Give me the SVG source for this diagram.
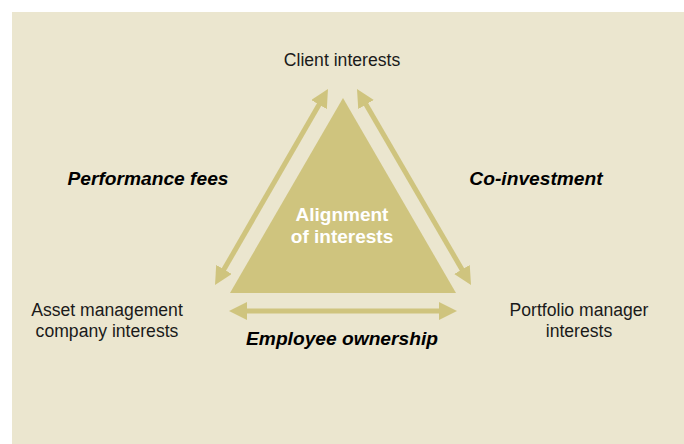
<svg xmlns="http://www.w3.org/2000/svg" width="684" height="444" viewBox="0 0 684 444">
  <defs>
    <marker id="head" viewBox="0 0 10 10" refX="4" refY="5" markerWidth="3.6" markerHeight="3.6" orient="auto-start-reverse" markerUnits="strokeWidth">
      <path d="M0,0 L10,5 L0,10 z" fill="#cfc47e"/>
    </marker>
    <style>
      .lbl { font-family: "Liberation Sans", Arial, sans-serif; font-size: 17.6px; fill: #1a1a1a; text-anchor: middle; }
      .mech { font-family: "Liberation Sans", Arial, sans-serif; font-size: 19.2px; font-weight: bold; font-style: italic; fill: #000; text-anchor: middle; }
      .core { font-family: "Liberation Sans", Arial, sans-serif; font-size: 19px; font-weight: bold; fill: #ffffff; text-anchor: middle; }
      .arrow { stroke: #cfc47e; stroke-width: 5; fill: none; }
    </style>
  </defs>

  <rect x="0" y="0" width="684" height="444" fill="#ffffff"/>
  <rect x="12" y="12" width="672" height="432" fill="#ebe6cf"/>

  <!-- central triangle -->
  <g id="alignment">
    <polygon points="343,98 230,293 456,293" fill="#cfc47e"/>
    <text class="core" x="342" y="221">Alignment</text>
    <text class="core" x="342" y="243">of interests</text>
  </g>

  <!-- two-way connectors between the three parties -->
  <g id="connectors">
    <line class="arrow" x1="220.4" y1="275.6" x2="322.6" y2="98.4" marker-start="url(#head)" marker-end="url(#head)"/>
    <line class="arrow" x1="362.4" y1="98.3" x2="465.6" y2="275.7" marker-start="url(#head)" marker-end="url(#head)"/>
    <line class="arrow" x1="239.8" y1="311" x2="446.2" y2="311" marker-start="url(#head)" marker-end="url(#head)"/>
  </g>

  <g id="client">
    <text class="lbl" x="342" y="66">Client interests</text>
  </g>
  <g id="company">
    <text class="lbl" x="107" y="316">Asset management</text>
    <text class="lbl" x="107" y="337">company interests</text>
  </g>
  <g id="manager">
    <text class="lbl" x="579" y="316">Portfolio manager</text>
    <text class="lbl" x="579" y="337">interests</text>
  </g>

  <g id="mechanisms">
    <text class="mech" x="148" y="185">Performance fees</text>
    <text class="mech" x="536" y="185">Co-investment</text>
    <text class="mech" x="342" y="345">Employee ownership</text>
  </g>
</svg>
